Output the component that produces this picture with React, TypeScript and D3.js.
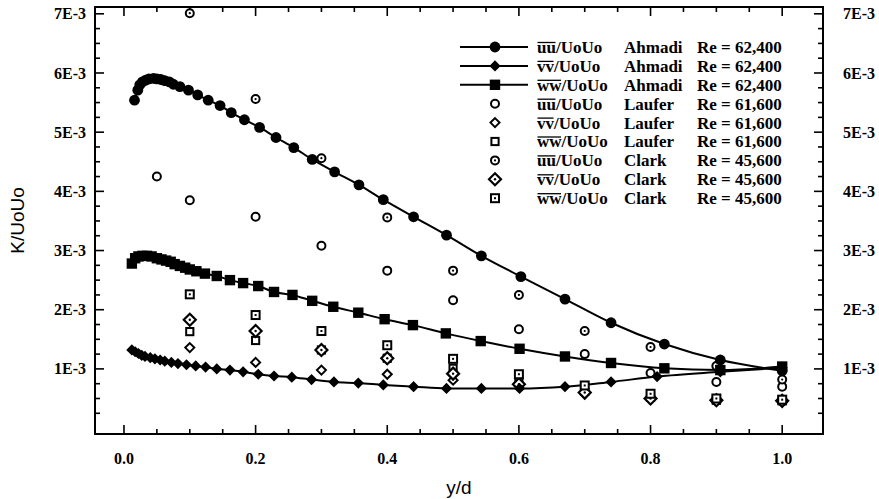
import * as d3 from 'd3'

// Ahmadi (Re = 62,400), values in units of 1E-3
const ahmadiUuX = [0.016, 0.021, 0.024, 0.028, 0.033, 0.038, 0.045, 0.05, 0.056, 0.062, 0.069, 0.075, 0.085, 0.098, 0.112, 0.128, 0.146, 0.163, 0.183, 0.206, 0.231, 0.258, 0.286, 0.32, 0.357, 0.394, 0.44, 0.49, 0.543, 0.603, 0.67, 0.74, 0.821, 0.906, 1.0]
const ahmadiUuY = [5.54, 5.71, 5.8, 5.85, 5.88, 5.9, 5.91, 5.9, 5.89, 5.87, 5.85, 5.81, 5.77, 5.71, 5.63, 5.54, 5.45, 5.33, 5.21, 5.08, 4.91, 4.74, 4.54, 4.33, 4.11, 3.86, 3.57, 3.26, 2.91, 2.56, 2.18, 1.78, 1.42, 1.15, 0.97]
const ahmadiWwX = [0.012, 0.017, 0.022, 0.028, 0.035, 0.042, 0.05, 0.057, 0.064, 0.071, 0.077, 0.085, 0.093, 0.1, 0.11, 0.123, 0.141, 0.161, 0.181, 0.204, 0.228, 0.256, 0.286, 0.318, 0.356, 0.396, 0.439, 0.489, 0.542, 0.601, 0.67, 0.74, 0.821, 0.906, 1.0]
const ahmadiWwY = [2.78, 2.87, 2.9, 2.91, 2.91, 2.9, 2.87, 2.85, 2.83, 2.81, 2.77, 2.74, 2.71, 2.68, 2.65, 2.61, 2.57, 2.5, 2.45, 2.4, 2.3, 2.25, 2.15, 2.05, 1.95, 1.84, 1.74, 1.6, 1.47, 1.34, 1.21, 1.1, 1.01, 0.98, 1.04]
const ahmadiVvX = [0.012, 0.017, 0.022, 0.027, 0.032, 0.04, 0.047, 0.055, 0.062, 0.072, 0.082, 0.095, 0.109, 0.124, 0.141, 0.161, 0.181, 0.204, 0.228, 0.255, 0.285, 0.319, 0.356, 0.394, 0.44, 0.49, 0.543, 0.601, 0.67, 0.74, 0.81, 0.906, 1.0]
const ahmadiVvY = [1.32, 1.29, 1.26, 1.23, 1.21, 1.19, 1.17, 1.15, 1.13, 1.11, 1.09, 1.07, 1.05, 1.03, 1.0, 0.98, 0.95, 0.91, 0.88, 0.86, 0.82, 0.78, 0.76, 0.73, 0.7, 0.67, 0.67, 0.67, 0.7, 0.78, 0.87, 0.95, 1.02]

// Laufer (Re = 61,600) and Clark (Re = 45,600)
const laufUuX = [0.05, 0.1, 0.2, 0.3, 0.4, 0.5, 0.6, 0.7, 0.8, 0.9, 1.0]
const laufUuY = [4.25, 3.85, 3.57, 3.08, 2.66, 2.16, 1.67, 1.25, 0.93, 0.78, 0.7]
const stationX = [0.1, 0.2, 0.3, 0.4, 0.5, 0.6, 0.7, 0.8, 0.9, 1.0]
const laufVvY = [1.36, 1.11, 0.98, 0.91, 0.81, 0.72, 0.58, 0.5, 0.46, 0.45]
const laufWwY = [1.63, 1.48, 1.32, 1.18, 1.01, 0.78, 0.62, 0.52, 0.47, 0.46]
const clarkUuY = [7.01, 5.56, 4.56, 3.56, 2.66, 2.25, 1.64, 1.37, 1.05, 0.82]
const clarkVvY = [1.83, 1.64, 1.32, 1.18, 0.92, 0.74, 0.6, 0.5, 0.47, 0.46]
const clarkWwY = [2.26, 1.91, 1.64, 1.4, 1.17, 0.91, 0.72, 0.58, 0.5, 0.48]

const yTickLabels = ['1E-3', '2E-3', '3E-3', '4E-3', '5E-3', '6E-3', '7E-3']
const xTickLabels = ['0.0', '0.2', '0.4', '0.6', '0.8', '1.0']

const legendRows = [
  { q: 'uu', author: 'Ahmadi', re: 'Re = 62,400', mark: 'aU' },
  { q: 'vv', author: 'Ahmadi', re: 'Re = 62,400', mark: 'aV' },
  { q: 'ww', author: 'Ahmadi', re: 'Re = 62,400', mark: 'aW' },
  { q: 'uu', author: 'Laufer', re: 'Re = 61,600', mark: 'lU' },
  { q: 'vv', author: 'Laufer', re: 'Re = 61,600', mark: 'lV' },
  { q: 'ww', author: 'Laufer', re: 'Re = 61,600', mark: 'lW' },
  { q: 'uu', author: 'Clark', re: 'Re = 45,600', mark: 'cU' },
  { q: 'vv', author: 'Clark', re: 'Re = 45,600', mark: 'cV' },
  { q: 'ww', author: 'Clark', re: 'Re = 45,600', mark: 'cW' },
]

const W = 879
const H = 499
const frame = { left: 95, right: 823, top: 7, bottom: 434 }
const serif = '"Liberation Serif", "Times New Roman", serif'
const sans = '"Liberation Sans", Arial, sans-serif'
// rough bold Times widths of the barred pairs at 17px
const barWidth: Record<string, number> = { uu: 18.5, vv: 16.5, ww: 24 }

function Marker({ kind, cx, cy }: { kind: string; cx: number; cy: number }) {
  const k = 'black'
  switch (kind) {
    case 'aU':
      return <circle cx={cx} cy={cy} r={5.4} fill={k} />
    case 'aV':
      return <path d={`M${cx},${cy - 5.6}L${cx + 5.6},${cy}L${cx},${cy + 5.6}L${cx - 5.6},${cy}Z`} fill={k} />
    case 'aW':
      return <rect x={cx - 5.2} y={cy - 5.2} width={10.4} height={10.4} fill={k} />
    case 'lU':
      return <circle cx={cx} cy={cy} r={4} fill="white" stroke={k} strokeWidth={2} />
    case 'lV':
      return <path d={`M${cx},${cy - 4.5}L${cx + 4.5},${cy}L${cx},${cy + 4.5}L${cx - 4.5},${cy}Z`} fill="white" stroke={k} strokeWidth={2} />
    case 'lW':
      return <rect x={cx - 3.6} y={cy - 3.6} width={7.2} height={7.2} fill="white" stroke={k} strokeWidth={2} />
    case 'cU':
      return (
        <g>
          <circle cx={cx} cy={cy} r={4} fill="white" stroke={k} strokeWidth={2} />
          <circle cx={cx} cy={cy} r={1.1} fill={k} />
        </g>
      )
    case 'cV':
      return (
        <g>
          <path d={`M${cx},${cy - 6}L${cx + 6},${cy}L${cx},${cy + 6}L${cx - 6},${cy}Z`} fill="white" stroke={k} strokeWidth={2.2} />
          <circle cx={cx} cy={cy} r={1.2} fill={k} />
        </g>
      )
    default:
      return (
        <g>
          <rect x={cx - 4} y={cy - 4} width={8} height={8} fill="white" stroke={k} strokeWidth={2} />
          <rect x={cx - 1} y={cy - 1} width={2} height={2} fill={k} />
        </g>
      )
  }
}

export default function App() {
  const x = d3.scaleLinear().domain([-0.044, 1.062]).range([frame.left, frame.right])
  const y = d3.scaleLinear().domain([-0.1, 7.115]).range([frame.bottom, frame.top])

  const line = d3.line<[number, number]>().x((d) => x(d[0])).y((d) => y(d[1])).curve(d3.curveMonotoneX)
  const pairs = (xs: number[], ys: number[]) => xs.map((v, i) => [v, ys[i]] as [number, number])

  const scatter = [
    { kind: 'lU', pts: pairs(laufUuX, laufUuY) },
    { kind: 'lV', pts: pairs(stationX, laufVvY) },
    { kind: 'lW', pts: pairs(stationX, laufWwY) },
    { kind: 'cU', pts: pairs(stationX, clarkUuY) },
    { kind: 'cV', pts: pairs(stationX, clarkVvY) },
    { kind: 'cW', pts: pairs(stationX, clarkWwY) },
  ]
  const ahmadi = [
    { kind: 'aU', pts: pairs(ahmadiUuX, ahmadiUuY) },
    { kind: 'aW', pts: pairs(ahmadiWwX, ahmadiWwY) },
    { kind: 'aV', pts: pairs(ahmadiVvX, ahmadiVvY) },
  ]

  const xMinor = d3.range(0, 21).map((i) => i * 0.05).filter((_, i) => i % 4 !== 0)
  const xMajor = d3.range(0, 6).map((i) => i * 0.2)
  const yMinor = d3.range(0, 29).map((i) => i * 0.25).filter((_, i) => i % 4 !== 0)
  const yMajor = d3.range(1, 8)

  return (
    <svg width={W} height={H} style={{ position: 'fixed', left: 0, top: 0, background: 'white' }}>
      <rect width={W} height={H} fill="white" />

      {/* ticks, all pointing into the frame */}
      <g stroke="black" strokeWidth={1.6}>
        {xMajor.map((v) => (
          <g key={'xM' + v}>
            <line x1={x(v)} x2={x(v)} y1={frame.bottom} y2={frame.bottom - 9} />
            <line x1={x(v)} x2={x(v)} y1={frame.top} y2={frame.top + 9} />
          </g>
        ))}
        {xMinor.map((v) => (
          <g key={'xm' + v}>
            <line x1={x(v)} x2={x(v)} y1={frame.bottom} y2={frame.bottom - 5} />
            <line x1={x(v)} x2={x(v)} y1={frame.top} y2={frame.top + 5} />
          </g>
        ))}
        {yMajor.map((v) => (
          <g key={'yM' + v}>
            <line x1={frame.left} x2={frame.left + 9} y1={y(v)} y2={y(v)} />
            <line x1={frame.right} x2={frame.right - 9} y1={y(v)} y2={y(v)} />
          </g>
        ))}
        {yMinor.map((v) => (
          <g key={'ym' + v}>
            <line x1={frame.left} x2={frame.left + 5} y1={y(v)} y2={y(v)} />
            <line x1={frame.right} x2={frame.right - 5} y1={y(v)} y2={y(v)} />
          </g>
        ))}
      </g>
      <rect x={frame.left} y={frame.top} width={frame.right - frame.left} height={frame.bottom - frame.top} fill="none" stroke="black" strokeWidth={2} />

      {/* tick labels */}
      <g fontFamily={serif} fontWeight="bold" fontSize={16} fill="black">
        {yMajor.map((v, i) => (
          <g key={'yl' + v}>
            <text x={frame.left - 9} y={y(v)} dy="0.35em" textAnchor="end">{yTickLabels[i]}</text>
            <text x={frame.right + 20} y={y(v)} dy="0.35em" textAnchor="start">{yTickLabels[i]}</text>
          </g>
        ))}
        {xMajor.map((v, i) => (
          <text key={'xl' + v} x={x(v)} y={frame.bottom + 30} textAnchor="middle">{xTickLabels[i]}</text>
        ))}
      </g>

      {/* axis titles */}
      <text x={(frame.left + frame.right) / 2} y={494} textAnchor="middle" fontFamily={sans} fontSize={19}>y/d</text>
      <text transform={`translate(24,${(frame.top + frame.bottom) / 2}) rotate(-90)`} textAnchor="middle" fontFamily={sans} fontSize={19}>K/UoUo</text>

      {/* Ahmadi curves */}
      {ahmadi.map((s) => (
        <path key={'l' + s.kind} d={line(s.pts) ?? ''} fill="none" stroke="black" strokeWidth={2} />
      ))}

      {/* scattered reference data */}
      {scatter.map((s) => (
        <g key={s.kind}>
          {s.pts.map((p, i) => (
            <Marker key={i} kind={s.kind} cx={x(p[0])} cy={y(p[1])} />
          ))}
        </g>
      ))}
      {ahmadi.map((s) => (
        <g key={s.kind}>
          {s.pts.map((p, i) => (
            <Marker key={i} kind={s.kind} cx={x(p[0])} cy={y(p[1])} />
          ))}
        </g>
      ))}

      {/* legend */}
      <g fontFamily={serif} fontWeight="bold" fontSize={17} fill="black">
        {legendRows.map((r, i) => {
          const cy = 47 + i * 18.9
          return (
            <g key={i}>
              {i < 3 && <line x1={460} x2={528} y1={cy} y2={cy} stroke="black" strokeWidth={2} />}
              <Marker kind={r.mark} cx={495} cy={cy} />
              <line x1={537.5} x2={537 + barWidth[r.q]} y1={cy - 4.5} y2={cy - 4.5} stroke="black" strokeWidth={1.3} />
              <text x={537} y={cy} dy="0.35em">{r.q + '/UoUo'}</text>
              <text x={624} y={cy} dy="0.35em">{r.author}</text>
              <text x={697} y={cy} dy="0.35em">{r.re}</text>
            </g>
          )
        })}
      </g>
    </svg>
  )
}
